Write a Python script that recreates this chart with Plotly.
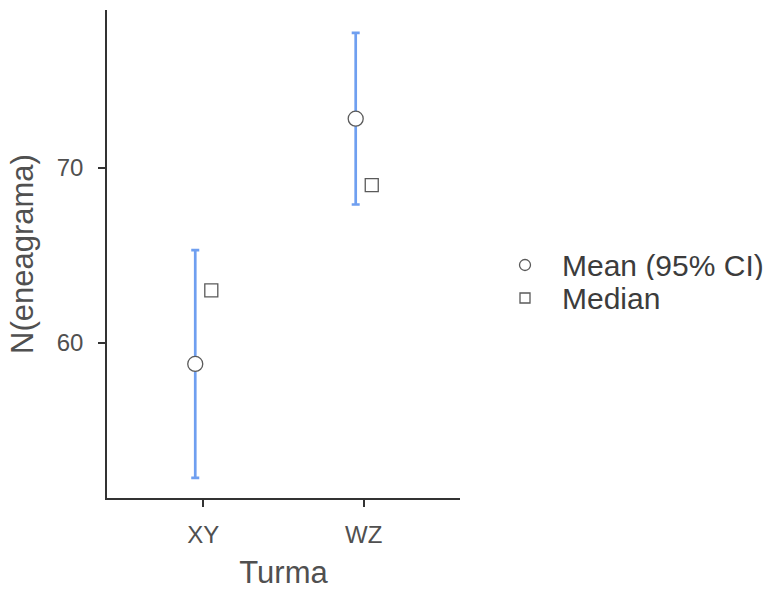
import plotly.graph_objects as go

# Descriptives: N(eneagrama) by Turma
groups = ["XY", "WZ"]
means = [58.8, 72.8]
ci_lower = [52.3, 67.9]
ci_upper = [65.3, 77.7]
medians = [63, 69]

legend_labels = ["Mean (95% CI)", "Median"]

pos = list(range(len(groups)))
dodge = 0.05
x_mean = [p - dodge for p in pos]
x_median = [p + dodge for p in pos]

font_family = "Liberation Sans, Arial, sans-serif"
grey_line = "#5a5a5a"
marker_line = dict(color=grey_line, width=1.3)
text_grey = "#505050"

fig = go.Figure()

fig.add_trace(go.Scatter(
    x=x_mean, y=means, mode="markers",
    marker=dict(symbol="circle", size=15, color="white", line=marker_line),
    error_y=dict(
        type="data", symmetric=False,
        array=[u - m for u, m in zip(ci_upper, means)],
        arrayminus=[m - l for m, l in zip(means, ci_lower)],
        color="#6f9ff0", thickness=2.7, width=4,
    ),
    showlegend=False,
))

fig.add_trace(go.Scatter(
    x=x_median, y=medians, mode="markers",
    marker=dict(symbol="square", size=13, color="white", line=marker_line),
    showlegend=False,
))

# Legend, drawn by hand to the right of the plot area
plot_left, plot_width = 107, 353
plot_bottom, plot_height = 498, 488


def px_x(px):
    return (px - plot_left) / plot_width


def px_y(py):
    return (plot_bottom - py) / plot_height


legend_rows = [265, 298]
sym_x = 525
text_x = 560
shapes = []
annotations = []
for label, row, kind in zip(legend_labels, legend_rows, ["circle", "rect"]):
    half = 5.5 if kind == "circle" else 5
    shapes.append(dict(
        type=kind, xref="paper", yref="paper",
        xsizemode="pixel", ysizemode="pixel",
        xanchor=px_x(sym_x), yanchor=px_y(row),
        x0=-half, x1=half, y0=-half, y1=half,
        line=dict(color=grey_line, width=1.3), fillcolor="white",
    ))
    annotations.append(dict(
        text=label, xref="paper", yref="paper",
        x=px_x(text_x), y=px_y(row), xanchor="left", yanchor="middle",
        height=30, valign="middle",
        showarrow=False, font=dict(size=30, color="#3c3c3c"),
    ))

fig.update_layout(
    width=776, height=594,
    margin=dict(l=plot_left, r=776 - plot_left - plot_width, t=10, b=96),
    paper_bgcolor="white", plot_bgcolor="white",
    font=dict(family=font_family, color="#333333"),
    showlegend=False,
    shapes=shapes,
    annotations=annotations,
    xaxis=dict(
        range=[-0.6, 1.6], tickmode="array", tickvals=pos, ticktext=groups,
        showgrid=False, zeroline=False, showline=True,
        linecolor="#333333", linewidth=1.5,
        ticks="outside", ticklen=7, tickwidth=1.5, tickcolor="#333333",
        ticklabelstandoff=7,
        tickfont=dict(size=24, color=text_grey),
        title=dict(text="Turma", font=dict(size=31, color=text_grey), standoff=15),
    ),
    yaxis=dict(
        range=[51.15, 79.0], tickvals=[60, 70],
        showgrid=False, zeroline=False, showline=True,
        linecolor="#333333", linewidth=1.5,
        ticks="outside", ticklen=7, tickwidth=1.5, tickcolor="#333333",
        ticklabelstandoff=10,
        tickfont=dict(size=24, color=text_grey),
        title=dict(text="N(eneagrama)", font=dict(size=31, color=text_grey), standoff=14),
    ),
)

fig.write_html("out.html")
